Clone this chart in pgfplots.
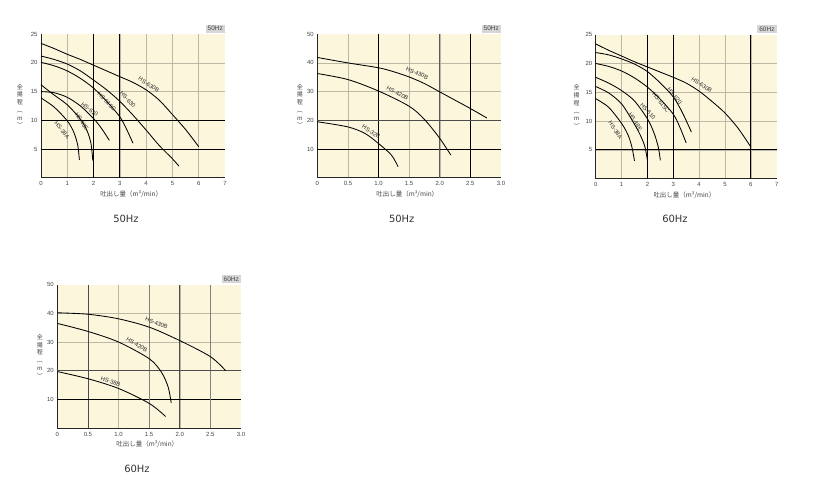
\documentclass[border=0pt]{standalone}
\usepackage{fontspec}
\setmainfont{Liberation Sans}
\newfontfamily\jp{Noto Sans CJK JP}
\newfontfamily\capfont{DejaVu Sans}
\usepackage{pgfplots}
\pgfplotsset{compat=1.18}
\definecolor{cream}{HTML}{FBF6DC}
\definecolor{lgrid}{HTML}{BDB8A6}
\definecolor{tickc}{HTML}{444444}
\definecolor{taggray}{HTML}{D6D6D6}
\pgfplotsset{
  pumpaxis/.style={
    scale only axis, anchor=south west, clip=false,
    axis lines=left, axis line style={-, black!85, line width=0.7pt},
    axis background/.style={fill=cream},
    grid=minor, minor grid style={lgrid, line width=0.5pt},
    major tick length=0pt, minor tick length=0pt,
    tick label style={font=\fontsize{6}{7}\selectfont, text=tickc},
    xticklabel style={yshift=-0.5bp},
    /pgf/number format/assume math mode=true,
    extra x tick labels={}, extra y tick labels={},
    extra tick style={grid=major, major grid style={black, line width=0.9pt}},
  },
  curve/.style={black, line width=0.85pt, smooth, no marks},
}
\newcommand{\lab}[4]{\node[rotate=#3, inner sep=0pt, font=\fontsize{5.8}{6}\selectfont, text=black!85] at (axis cs:#1,#2) {#4};}
\newcommand{\ylab}[1]{\node[align=center, font=\jp\fontsize{6}{7.8}\selectfont, text=tickc] at (rel axis cs:#1,0.5) {全\\揚\\程\\︵\\m\\︶};}
\newcommand{\xlab}{\node[font=\jp\fontsize{6.5}{7}\selectfont, text=tickc] at (rel axis cs:0.49,0) [yshift=-16.5bp] {吐出し量（m³/min）};}
\newcommand{\tagbox}[1]{\node[anchor=south east, fill=taggray, inner xsep=2bp, inner ysep=1.5bp, font=\fontsize{6.5}{7}\selectfont, text=tickc] at (rel axis cs:1,1) [yshift=1.5bp] {#1};}
\begin{document}
\begin{tikzpicture}
\path[use as bounding box, fill=white] (0,0) rectangle (827bp,-499bp);

% Chart 1: 50Hz, small pumps
\begin{axis}[pumpaxis, at={(41bp,-177.7bp)}, width=184bp, height=143.5bp,
  xmin=0, xmax=7, ymin=0, ymax=25,
  xtick={0,...,7}, ytick={5,10,15,20,25},
  minor xtick={1,...,6}, minor ytick={5,10,15,20},
  extra x ticks={2,3}, extra y ticks={5,10}]
\addplot[curve] coordinates {(0,23.4)(0.5,22.5)(1,21.5)(1.5,20.6)(2,19.6)(2.5,18.6)(3,17.6)(3.5,16.6)(4,15.3)(4.5,13.5)(5,11.0)(5.5,8.4)(6,5.4)};
\addplot[curve] coordinates {(0,21.2)(0.5,20.6)(1,19.8)(1.5,18.6)(2,17.0)(2.5,15.3)(3,13.3)(3.5,10.9)(4,8.3)(4.5,5.6)(5,3.3)(5.25,2.0)};
\addplot[curve] coordinates {(0,20.1)(0.5,19.5)(1,18.6)(1.5,17.3)(2,15.6)(2.5,13.3)(3,10.6)(3.25,8.5)(3.5,6.0)};
\addplot[curve] coordinates {(0,15.0)(0.5,14.8)(1,14.0)(1.5,12.5)(2,10.3)(2.3,8.6)(2.6,6.5)};
\addplot[curve] coordinates {(0,16.2)(0.3,15.1)(0.5,14.4)(1,12.7)(1.5,10.2)(1.75,8.2)(1.9,6.0)(1.97,3.0)};
\addplot[curve] coordinates {(0,13.9)(0.5,12.3)(1,9.9)(1.25,7.9)(1.4,5.6)(1.46,3.1)};
\lab{4.1}{16.2}{-33}{HS-630B}
\lab{3.3}{13.6}{-47}{HS-630}
\lab{2.5}{13.3}{-47}{HS-615C}
\lab{1.85}{11.9}{-37}{HS-610}
\lab{1.55}{9.8}{-57}{HS-48E}
\lab{0.8}{8.3}{-52}{HS-38A}
\ylab{-0.115}
\xlab
\tagbox{50Hz}
\end{axis}

% Chart 2: 50Hz, large pumps
\begin{axis}[pumpaxis, at={(317.3bp,-177.7bp)}, width=183.7bp, height=143.5bp,
  xmin=0, xmax=3, ymin=0, ymax=50,
  xtick={0,0.5,1,1.5,2,2.5,3}, xticklabels={0,0.5,1.0,1.5,2.0,2.5,3.0},
  ytick={10,20,30,40,50},
  minor xtick={0.5,1,1.5,2,2.5}, minor ytick={10,20,30,40},
  extra x ticks={1,2.5}, extra y ticks={10}]
\draw[black!65, line width=0.7pt] (axis cs:2,0) -- (axis cs:2,50);
\draw[black!70, line width=0.8pt] (axis cs:0,20) -- (axis cs:3,20);
\addplot[curve] coordinates {(0,41.9)(0.5,40.0)(1,38.3)(1.25,36.9)(1.5,35.1)(1.75,32.8)(2,29.9)(2.25,27.0)(2.5,24.1)(2.77,20.8)};
\addplot[curve] coordinates {(0,36.3)(0.5,34.2)(1,30.2)(1.5,24.9)(1.75,20.3)(2,13.7)(2.18,7.9)};
\addplot[curve] coordinates {(0,19.5)(0.5,17.7)(0.78,15.4)(1,11.9)(1.21,7.9)(1.32,3.8)};
\lab{1.63}{36.4}{-22}{HS-430B}
\lab{1.31}{29.4}{-27}{HS-420B}
\lab{0.88}{16.0}{-33}{HS-32B}
\ylab{-0.095}
\xlab
\tagbox{50Hz}
\end{axis}

% Chart 3: 60Hz, small pumps
\begin{axis}[pumpaxis, at={(595.7bp,-178.7bp)}, width=181bp, height=144bp,
  xmin=0, xmax=7, ymin=0, ymax=25,
  xtick={0,...,7}, ytick={5,10,15,20,25},
  minor xtick={1,...,6}, minor ytick={5,10,15,20},
  extra x ticks={2,3,6}, extra y ticks={5}]
\addplot[curve] coordinates {(0,23.4)(0.5,22.3)(1,21.3)(1.5,20.3)(2,19.4)(2.5,18.5)(3,17.6)(3.5,16.6)(4,15.2)(4.5,13.4)(5,11.4)(5.5,8.8)(6,5.5)};
\addplot[curve] coordinates {(0,21.9)(0.5,21.5)(1,20.8)(1.5,19.9)(2,18.6)(2.5,16.6)(3,14.2)(3.35,11.5)(3.7,8.1)};
\addplot[curve] coordinates {(0,20.0)(0.5,19.5)(1,18.7)(1.5,17.5)(2,15.9)(2.5,13.8)(3,11.2)(3.25,9.0)(3.5,6.2)};
\addplot[curve] coordinates {(0,17.6)(0.5,16.6)(1,15.3)(1.5,13.5)(2,10.4)(2.25,8.0)(2.42,5.5)(2.5,3.2)};
\addplot[curve] coordinates {(0,16.0)(0.5,14.9)(1,13.0)(1.4,10.2)(1.7,7.8)(1.9,5.6)(2.0,3.2)};
\addplot[curve] coordinates {(0,13.9)(0.5,12.4)(1,9.6)(1.25,7.6)(1.4,5.5)(1.5,3.1)};
\lab{4.1}{16.3}{-33}{HS-630B}
\lab{3.05}{14.4}{-52}{HS-620}
\lab{2.52}{13.2}{-52}{HS-615C}
\lab{2.02}{11.7}{-47}{HS-610}
\lab{1.53}{9.9}{-57}{HS-48E}
\lab{0.76}{8.4}{-57}{HS-38A}
\ylab{-0.105}
\xlab
\tagbox{60Hz}
\end{axis}

% Chart 4: 60Hz, large pumps
\begin{axis}[pumpaxis, at={(57.3bp,-428bp)}, width=183.7bp, height=143.3bp,
  xmin=0, xmax=3, ymin=0, ymax=50,
  xtick={0,0.5,1,1.5,2,2.5,3}, xticklabels={0,0.5,1.0,1.5,2.0,2.5,3.0},
  ytick={10,20,30,40,50},
  minor xtick={0.5,1,1.5,2,2.5}, minor ytick={10,20,30,40},
  extra x ticks={0.5,2}, extra y ticks={10},
  extra x tick style={grid=major, major grid style={black!70, line width=0.8pt}}]
\draw[black!50, line width=0.7pt] (axis cs:1.5,0) -- (axis cs:1.5,50);
\draw[black!50, line width=0.7pt] (axis cs:2.5,0) -- (axis cs:2.5,50);
\draw[black!70, line width=0.8pt] (axis cs:0,20) -- (axis cs:3,20);
\addplot[curve] coordinates {(0,40.2)(0.5,39.7)(1,38.1)(1.5,35.2)(2,30.5)(2.5,24.9)(2.75,20.0)};
\addplot[curve] coordinates {(0,36.5)(0.5,33.7)(1,30.0)(1.5,24.2)(1.7,19.5)(1.81,14.3)(1.86,8.8)};
\addplot[curve] coordinates {(0,19.7)(0.5,17.2)(1,13.8)(1.5,8.6)(1.77,4.0)};
\lab{1.62}{36.6}{-22}{HS-430B}
\lab{1.30}{29.1}{-30}{HS-420B}
\lab{0.87}{16.2}{-18}{HS-38B}
\ylab{-0.095}
\xlab
\tagbox{60Hz}
\end{axis}

\node[font=\capfont\fontsize{10}{12}\selectfont, text=black!80] at (126bp,-219bp) {50Hz};
\node[font=\capfont\fontsize{10}{12}\selectfont, text=black!80] at (401.7bp,-219bp) {50Hz};
\node[font=\capfont\fontsize{10}{12}\selectfont, text=black!80] at (675bp,-219bp) {60Hz};
\node[font=\capfont\fontsize{10}{12}\selectfont, text=black!80] at (137bp,-469bp) {60Hz};
\end{tikzpicture}
\end{document}
